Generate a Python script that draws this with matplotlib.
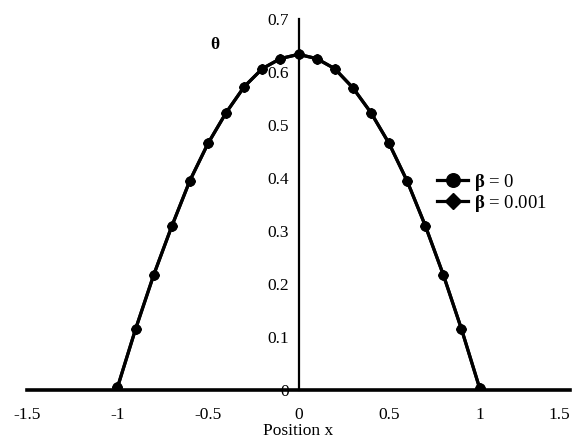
import matplotlib
matplotlib.use('Agg')
import matplotlib.pyplot as plt
import numpy as np

plt.rcParams['font.family'] = 'Liberation Serif'
plt.rcParams['mathtext.fontset'] = 'custom'
plt.rcParams['mathtext.rm'] = 'Liberation Serif'
plt.rcParams['mathtext.bf'] = 'Liberation Serif:bold'

# Data
x = [-1.0, -0.9, -0.8, -0.7, -0.6, -0.5, -0.4, -0.3, -0.2, -0.1, 0.0,
     0.1, 0.2, 0.3, 0.4, 0.5, 0.6, 0.7, 0.8, 0.9, 1.0]
theta_b0 = [0.005, 0.115, 0.217, 0.309, 0.395, 0.465, 0.523, 0.572, 0.606, 0.625, 0.633,
            0.625, 0.606, 0.570, 0.523, 0.465, 0.394, 0.310, 0.217, 0.115, 0.004]
theta_b001 = [0.005, 0.115, 0.217, 0.309, 0.395, 0.465, 0.523, 0.572, 0.606, 0.625, 0.633,
              0.625, 0.606, 0.570, 0.523, 0.465, 0.394, 0.310, 0.217, 0.115, 0.004]
xticks = [-1.5, -1, -0.5, 0, 0.5, 1, 1.5]
yticks = [0, 0.1, 0.2, 0.3, 0.4, 0.5, 0.6, 0.7]

fig = plt.figure(figsize=(5.79, 4.44), dpi=100)
ax = fig.add_axes([0.0466, 0.1216, 0.938, 0.836])

ax.plot(x, theta_b0, color='black', linewidth=2.3, marker='o', markersize=6.5,
        label=r'$\mathbf{β}$ = 0')
ax.plot(x, theta_b001, color='black', linewidth=2.3, marker='D', markersize=5.5,
        label=r'$\mathbf{β}$ = 0.001')

ax.set_xlim(-1.5, 1.5)
ax.set_ylim(0, 0.7)
ax.set_xticks(xticks)
ax.set_xticklabels(['-1.5', '-1', '-0.5', '0', '0.5', '1', '1.5'])
ax.set_yticks(yticks)
ax.set_yticklabels(['0', '0.1', '0.2', '0.3', '0.4', '0.5', '0.6', '0.7'])
# keep the last label inside the figure
ax.get_xticklabels()[-1].set_horizontalalignment('right')

ax.spines['top'].set_visible(False)
ax.spines['right'].set_visible(False)
ax.spines['left'].set_position(('data', 0))
ax.spines['left'].set_linewidth(1.6)
ax.spines['bottom'].set_linewidth(2.6)
ax.tick_params(axis='both', length=0, labelsize=12.5)
ax.tick_params(axis='x', pad=12)
ax.tick_params(axis='y', pad=7)

ax.set_xlabel('Position x', fontsize=12.5, labelpad=0)
ax.text(-0.46, 0.651, 'θ', fontsize=12.5, fontweight='bold', ha='center', va='center')

ax.legend(loc='center left', bbox_to_anchor=(0.737, 0.532), frameon=False,
          fontsize=13.5, handlelength=1.7, handletextpad=0.3, labelspacing=0.0,
          markerscale=1.5, borderpad=0)

fig.savefig('out.png', dpi=100)
